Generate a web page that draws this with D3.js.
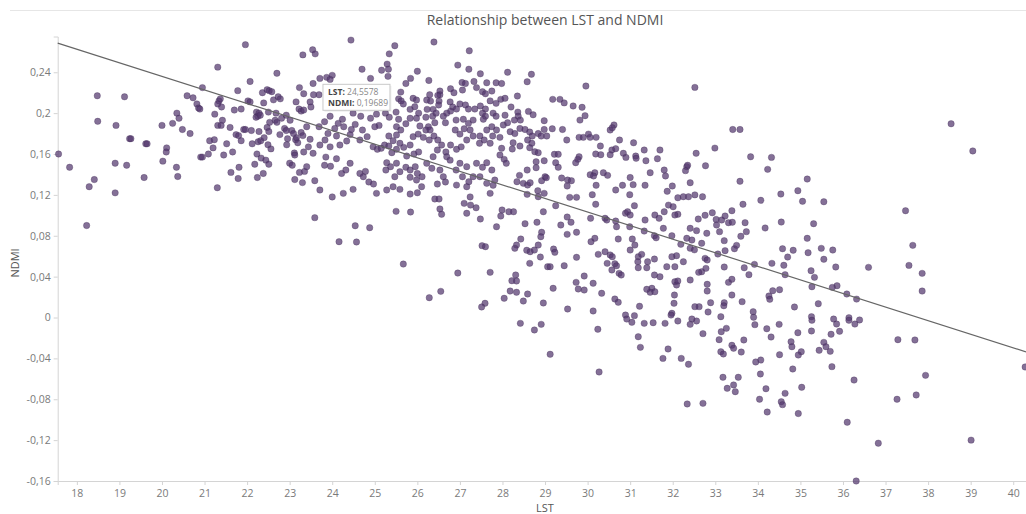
<!DOCTYPE html>
<html>
<head>
<meta charset="utf-8">
<script src="https://cdn.jsdelivr.net/npm/d3@7"></script>
<style>
  body { margin: 0; background: #fff; }
  svg { display: block; font-family: "Open Sans", "DejaVu Sans", sans-serif; }
</style>
</head>
<body>
<svg id="chart"></svg>
<script>
//chart text
const title = "Relationship between LST and NDMI";
const xLabel = "LST";
const yLabel = "NDMI";

//axis ranges and ticks
const lstRange = [17.55, 40.3];
const ndmiRange = [-0.16, 0.275];
const xTicks = d3.range(18, 41, 1);
const yTicks = [-0.16, -0.12, -0.08, -0.04, 0, 0.04, 0.08, 0.12, 0.16, 0.2, 0.24];

//trend line NDMI = a + b * LST
const trendIntercept = 0.5016;
const trendSlope = -0.01328;

//hovered point shown in the tooltip
const tipPoint = [24.5578, 0.19689];

//sample points [LST, NDMI]
const samples = [
  //left part
  [17.57,0.160],[17.83,0.147],[18.29,0.128],[18.41,0.135],[18.23,0.090],[18.48,0.217],[18.49,0.192],[19.12,0.216],[18.92,0.188],[18.90,0.151],
  [18.90,0.122],[19.17,0.149],[19.24,0.175],[19.27,0.175],[19.62,0.170],[19.65,0.170],[19.58,0.137],[20.00,0.188],[20.11,0.166],[20.10,0.162],
  [20.02,0.153],[20.25,0.190],[20.35,0.200],[20.40,0.195],[20.48,0.184],[20.34,0.147],[20.37,0.138],[20.66,0.180],[20.59,0.217],[20.73,0.215],
  [20.82,0.209],[20.86,0.205],[20.89,0.204],[20.95,0.225],[21.31,0.245],[20.91,0.157],[20.95,0.157],[21.09,0.160],[21.12,0.173],[21.23,0.174],
  [21.20,0.166],[21.30,0.127],[21.24,0.199],[21.34,0.212],[21.37,0.214],[21.31,0.209],[21.40,0.206],[21.42,0.193],[21.31,0.188],[21.39,0.188],
  [21.45,0.159],[21.52,0.170],[21.60,0.186],[21.66,0.162],[21.70,0.203],[21.86,0.204],[21.78,0.222],[21.96,0.267],[22.07,0.231],[22.02,0.212],
  [22.07,0.211],[21.74,0.179],[21.80,0.178],[21.86,0.173],[21.92,0.184],[21.96,0.184],[22.10,0.183],[22.12,0.170],[21.81,0.147],[21.62,0.142],
  [21.79,0.136],[22.18,0.150],[22.23,0.160],[22.24,0.137],[22.38,0.141],[22.33,0.156],[22.44,0.154],[22.51,0.150],[22.22,0.201],[22.25,0.197],
  [22.21,0.196],[22.28,0.200],[22.31,0.198],[22.39,0.210],[22.36,0.220],[22.47,0.223],[22.52,0.222],[22.58,0.221],[22.62,0.213],[22.70,0.239],
  [22.73,0.216],[22.78,0.214],[22.28,0.182],[22.26,0.172],[22.32,0.173],[22.40,0.176],[22.47,0.186],[22.51,0.182],[22.49,0.169],[22.56,0.165],
  [22.53,0.191],[22.50,0.201],[22.66,0.193],[22.70,0.191],[22.68,0.200],[22.88,0.185],[22.92,0.183],[22.77,0.179],[22.95,0.175],[22.93,0.169],
  [22.81,0.195],[22.92,0.198],[23.01,0.193],[23.15,0.211],[23.23,0.225],[23.31,0.257],[23.33,0.219],[23.22,0.204],[23.27,0.202],[23.33,0.203],
  [23.00,0.151],[23.06,0.149],[23.12,0.135],[23.30,0.132],[23.23,0.142],[23.35,0.143],[23.11,0.161],[23.12,0.159],[23.33,0.162],[23.14,0.174],
  [23.19,0.171],[23.16,0.176],[23.27,0.181],[23.31,0.178],[23.05,0.183],[23.09,0.180],
  //dense core
  [24.44,0.2715],[25.47,0.266],[26.39,0.2696],[23.54,0.262],[23.60,0.258],[25.34,0.258],[27.22,0.261],[26.95,0.247],[24.70,0.243],[25.29,0.248],
  [25.32,0.243],[25.16,0.242],[26.00,0.241],[27.21,0.243],[27.48,0.2385],[25.31,0.236],[25.84,0.234],[25.73,0.229],[26.27,0.232],[24.90,0.234],
  [23.71,0.234],[23.87,0.235],[24.00,0.237],[23.95,0.233],[23.55,0.229],[23.56,0.218],[23.69,0.218],[23.48,0.211],[23.50,0.206],
  [27.05,0.230],[27.13,0.229],[27.06,0.2226],[27.33,0.231],[27.39,0.225],[27.63,0.2297],[27.85,0.2297],[27.75,0.2216],[27.53,0.221],[27.60,0.219],
  [26.78,0.2239],[26.86,0.220],[26.53,0.2216],[26.53,0.218],[26.29,0.218],[26.22,0.2128],[26.31,0.2118],[26.48,0.2174],[26.51,0.2118],[26.50,0.208],
  [25.90,0.2145],[25.98,0.2128],[25.94,0.2063],[25.61,0.2206],[25.56,0.214],[25.62,0.212],[25.67,0.209],[25.83,0.2037],[26.77,0.211],[26.83,0.206],
  [26.78,0.202],[26.92,0.204],[27.00,0.209],[27.13,0.208],[27.20,0.204],[27.35,0.204],[27.48,0.207],[27.60,0.204],[27.71,0.212],[27.85,0.2096],
  [27.53,0.200],[27.60,0.197],[27.55,0.194],[27.78,0.200],[27.85,0.197],[26.69,0.200],[26.61,0.197],[26.66,0.1906],[26.37,0.2037],[26.36,0.197],
  [26.44,0.200],[26.41,0.1906],[26.20,0.196],[26.23,0.2037],[26.26,0.1867],[26.03,0.200],[25.98,0.195],[26.06,0.1874],[25.83,0.195],[25.73,0.1896],
  [25.50,0.201],[25.56,0.194],[25.51,0.1867],[25.61,0.1835],[25.25,0.200],[25.34,0.196],[25.04,0.199],[24.90,0.195],[25.10,0.188],[24.67,0.197],
  [24.49,0.200],[24.54,0.189],[24.24,0.194],[24.14,0.190],[23.95,0.197],[23.82,0.1916],[23.69,0.1867],[23.40,0.1867],[23.48,0.1744],
  [24.06,0.185],[23.90,0.180],[23.83,0.1737],[24.10,0.1776],[24.27,0.1867],[24.42,0.179],[24.45,0.184],[24.34,0.1727],[24.71,0.1835],[24.82,0.177],
  [24.65,0.1737],[25.00,0.1867],[24.96,0.167],[25.06,0.1646],[25.15,0.1656],[25.23,0.1688],[25.33,0.1776],[25.43,0.173],[25.51,0.1786],[25.33,0.1678],
  [25.40,0.1613],[25.51,0.1646],[25.59,0.1705],[25.68,0.1665],[25.83,0.1688],[25.75,0.158],[25.92,0.160],[26.03,0.162],[25.90,0.177],[26.02,0.1795],
  [26.14,0.1763],[26.20,0.1835],[26.30,0.1835],[26.28,0.1737],[26.39,0.1776],[26.48,0.1737],[26.57,0.1688],[26.47,0.1639],[26.67,0.162],[26.78,0.1688],
  [26.92,0.1646],[27.03,0.167],[27.16,0.1737],[26.89,0.1835],[27.00,0.1795],[27.10,0.1847],[27.24,0.1835],[26.91,0.1932],[27.08,0.194],[27.20,0.190],
  [27.31,0.1932],[27.31,0.1776],[27.47,0.1776],[27.57,0.1737],[27.46,0.1705],[27.63,0.1835],[27.77,0.1776],[27.86,0.1835],[27.75,0.1867],[27.71,0.1705],
  [23.44,0.167],[23.55,0.1607],[23.71,0.1688],[23.95,0.167],[24.18,0.1688],[23.85,0.157],[23.82,0.149],[23.96,0.148],[24.10,0.1554],
  [24.42,0.1509],[24.32,0.1443],[24.22,0.141],[24.65,0.141],[24.73,0.1378],[24.78,0.143],[24.86,0.1326],[24.97,0.1306],[25.28,0.1515],[25.37,0.1476],
  [25.26,0.1443],[25.51,0.151],[25.59,0.1427],[25.47,0.1378],[25.73,0.147],[25.83,0.1443],[25.95,0.1476],[26.00,0.141],[25.83,0.1372],[25.98,0.1345],
  [26.11,0.1378],[26.22,0.1509],[26.34,0.146],[26.53,0.1443],[26.37,0.1573],[26.69,0.1573],[26.77,0.154],[26.61,0.1378],[26.66,0.1326],[26.47,0.1306],
  [26.91,0.1443],[27.00,0.1509],[27.16,0.1476],[27.06,0.1378],[27.21,0.1329],[27.31,0.1378],[27.39,0.1509],[27.53,0.147],[27.63,0.1515],[27.75,0.1443],
  [27.47,0.1378],[27.63,0.1313],[27.82,0.1345],[23.40,0.1476],[23.59,0.1339],[23.71,0.1248],[24.00,0.118],[24.26,0.1215],[24.49,0.1254],
  [25.59,0.1254],[25.83,0.1208],[26.00,0.1221],[26.10,0.128],[26.92,0.1296],[27.16,0.128],[27.24,0.118],[25.04,0.1215],[25.28,0.1248],[25.43,0.128],
  [27.78,0.1294],[27.71,0.1215],
  //upper middle
  [28.12,0.240],[28.68,0.238],[28.58,0.2307],[27.98,0.229],[28.35,0.2167],[27.96,0.2135],[28.06,0.2145],[28.20,0.206],[28.36,0.201],[28.37,0.197],
  [28.28,0.1932],[28.42,0.1932],[28.61,0.2017],[28.72,0.1984],[28.06,0.198],[28.02,0.1884],[28.12,0.1906],[28.18,0.1818],[28.29,0.180],
  [28.41,0.185],[28.53,0.184],[28.64,0.1815],[28.70,0.1776],[28.59,0.1737],[28.84,0.180],[28.91,0.1776],[29.04,0.1776],[28.98,0.1926],[29.17,0.1847],
  [28.98,0.184],[29.41,0.184],[29.18,0.2135],[29.35,0.2135],[29.45,0.210],[29.66,0.207],[29.87,0.2057],[29.94,0.1975],[29.82,0.1932],[29.96,0.2265],
  [32.52,0.2252],[29.51,0.1737],[29.80,0.1763],[29.90,0.1763],[30.02,0.1795],[30.06,0.1763],[30.20,0.1763],[30.53,0.1835],[30.62,0.1884],[30.58,0.1857],
  [30.30,0.1678],[30.75,0.1737],[31.08,0.171],[30.57,0.1639],[30.66,0.1652],[30.53,0.1593],[30.84,0.1607],[30.90,0.1567],[31.13,0.158],[31.14,0.1558],
  [31.37,0.1534],[31.33,0.1639],[31.70,0.1639],[31.64,0.1554],[32.55,0.1607],[31.80,0.1443],[31.83,0.1385],[32.33,0.1476],[32.35,0.149],[32.30,0.1437],
  [31.47,0.1417],[31.00,0.137],[30.82,0.1294],[31.07,0.130],[31.35,0.1294],[30.66,0.1248],[30.99,0.1202],[31.99,0.1287],[31.87,0.1235],[32.41,0.1319],
  [32.52,0.120],[32.37,0.1182],[32.12,0.1172],[32.25,0.1182],[29.80,0.1573],[29.77,0.1548],[29.72,0.1515],[30.19,0.160],[30.31,0.1593],[30.17,0.1417],
  [30.06,0.1397],[30.14,0.1385],[30.37,0.1417],[30.47,0.1391],[30.20,0.1294],[30.11,0.1202],[29.39,0.1365],[29.53,0.1345],[29.62,0.1339],[29.52,0.1287],
  [29.58,0.1176],[29.74,0.1176],[29.25,0.1515],[29.31,0.147],[29.22,0.1597],[29.31,0.1597],[28.98,0.1534],[28.79,0.1524],[28.79,0.1466],[29.00,0.1378],
  [28.92,0.1339],[29.03,0.1368],[28.58,0.1443],[28.40,0.1391],[28.34,0.1329],[28.49,0.1313],[28.59,0.1296],[28.65,0.1319],[28.83,0.1241],[28.98,0.1215],
  [28.58,0.1205],[28.84,0.1182],[28.04,0.1548],[28.09,0.1509],[27.94,0.159],[27.98,0.1656],[28.25,0.171],[28.23,0.1649],[28.41,0.1678],[28.69,0.1705],
  [28.64,0.1662],[28.76,0.1622],[28.84,0.1613],[27.94,0.1763],
  //upper right
  [38.54,0.1896],[39.05,0.163],[33.41,0.184],[33.58,0.184],[32.99,0.1658],[33.83,0.1573],[34.32,0.1567],[32.77,0.1485],[34.23,0.145],[33.58,0.1333],
  [35.16,0.1355],[32.70,0.1182],[34.54,0.1208],[34.94,0.1241],[35.05,0.1137],[35.55,0.1133],[34.07,0.1147],[33.65,0.1108],[37.47,0.1045],[32.60,0.0964],
  [32.76,0.100],[32.93,0.1025],[33.02,0.096],[33.15,0.0954],[33.23,0.0993],[33.39,0.1045],[33.31,0.0928],[33.40,0.0932],[33.03,0.0905],[33.70,0.0928],
  [33.73,0.084],[33.60,0.0795],[32.56,0.085],[32.80,0.0824],[33.10,0.084],[33.21,0.0752],[32.68,0.0726],[34.17,0.0876],[34.55,0.0934],[35.31,0.0918],
  [35.16,0.0775],[34.58,0.0673],[34.83,0.0658],[35.18,0.0634],[35.49,0.0677],[35.76,0.066],[34.70,0.0592],[35.55,0.057],[37.64,0.0706],[33.06,0.0621],
  [32.76,0.0579],[33.23,0.0654],[33.45,0.0673],[33.50,0.0706],
  //lower right
  [32.71,-0.084],[34.22,-0.0925],[34.95,-0.094],[36.10,-0.1025],[36.83,-0.123],[39.01,-0.120],[36.31,-0.160],[37.27,-0.080],[37.72,-0.0758],[37.94,-0.0566],
  [36.26,-0.0612],[37.29,-0.0217],[37.69,-0.022],[40.28,-0.0484],[36.60,0.0491],[37.55,0.051],[37.86,0.0432],[37.86,0.0259],[36.09,0.023],[36.32,0.018],
  [36.14,-0.0002],[36.14,-0.0027],[36.28,-0.0064],[36.39,-0.0024],[35.92,-0.0135],[35.72,-0.0164],[35.78,-0.0015],[35.85,-0.0064],[35.83,0.0494],
  [35.86,0.0311],[35.75,0.0295],[35.25,0.0458],[35.27,0.0301],[35.33,0.0393],[35.42,0.0135],[35.26,0.0008],[35.27,-0.0027],[35.26,-0.0132],[35.55,-0.0243],
  [35.60,-0.0286],[35.70,-0.0331],[35.44,-0.0321],[35.74,-0.0481],[35.03,-0.0683],[34.86,0.0103],[34.94,-0.0149],[35.02,-0.0335],[34.95,-0.0367],[34.78,-0.0237],
  [34.80,-0.0286],[34.82,-0.0504],[34.64,-0.0742],[34.55,-0.0824],[34.58,-0.0853],[34.51,-0.0364],[34.50,-0.0067],[34.31,-0.0191],[34.21,-0.011],[34.61,0.0511],
  [34.64,0.0419],[34.33,0.053],[34.51,0.0272],[34.35,0.0262],[34.26,0.021],[34.28,0.0178],[33.92,0.052],[33.68,0.0487],[33.79,0.0419],
  [33.39,0.022],[33.63,0.0155],[33.89,0.0057],[33.90,0.0002],[33.93,-0.007],[33.67,-0.022],[33.61,-0.0338],[33.39,-0.0272],[33.43,-0.0301],[33.95,-0.0435],
  [34.07,-0.0416],[34.06,-0.0553],[34.19,-0.0697],[34.04,-0.080],[33.18,-0.0585],[33.54,-0.0585],[33.43,-0.066],[33.28,-0.0693],[33.47,-0.0726],[33.13,-0.0335],
  [33.19,-0.0357],[33.09,-0.0217],[33.14,-0.0139],[33.26,-0.0106],[33.13,0.0008],[33.21,0.0145],[33.20,0.0115],[32.89,0.0145],[32.83,0.0054],[32.71,-0.0158],
  [32.56,-0.0034],[32.62,0.0106],[32.52,0.0106],[32.81,0.0325],[32.81,0.0259],[33.31,0.0344],[33.39,0.0374],[33.21,0.0494],[32.68,0.0448],[32.78,0.0481],
  [32.81,0.0563],
  //lower middle
  [27.99,0.1052],[27.96,0.0993],[28.15,0.1035],[28.26,0.1035],[27.86,0.0888],[28.53,0.0918],[28.81,0.0932],[28.96,0.1035],[29.25,0.1094],[29.52,0.0983],
  [29.61,0.0932],[29.37,0.0905],[28.92,0.0834],[28.90,0.0791],[28.43,0.0768],[28.33,0.0709],[28.29,0.0677],[28.57,0.0658],[28.65,0.0644],[28.75,0.066],
  [28.84,0.0709],[28.64,0.053],[28.89,0.0592],[29.06,0.0497],[29.12,0.0497],[29.20,0.067],[29.23,0.0638],[29.45,0.0507],[29.74,0.0589],[29.52,0.0814],
  [29.74,0.0834],[30.07,0.0971],[30.19,0.1108],[30.41,0.0971],[30.45,0.0954],[30.66,0.0944],[30.68,0.0888],[30.08,0.0742],[30.17,0.0775],[30.25,0.0618],
  [30.41,0.0644],[30.53,0.0612],[30.58,0.0595],[30.46,0.053],[30.64,0.0526],[30.57,0.0465],[30.68,0.0507],[30.74,0.0432],[30.79,0.0416],[30.72,0.0768],
  [30.89,0.102],[30.94,0.1035],[31.00,0.1003],[31.10,0.1094],[30.99,0.0888],[31.05,0.0768],[31.11,0.0709],[31.00,0.066],[31.19,0.0595],[31.27,0.0618],
  [31.18,0.0546],[31.19,0.0487],[31.41,0.0546],[31.39,0.0487],[31.57,0.0572],[31.35,0.0954],[31.33,0.0846],[31.58,0.1003],[31.68,0.0971],[31.78,0.0873],
  [31.57,0.080],[31.61,0.078],[31.80,0.1035],[31.90,0.110],[32.01,0.1084],[32.12,0.101],[32.05,0.1003],[31.98,0.080],[32.19,0.0716],[32.33,0.0775],
  [32.41,0.0873],[32.45,0.0758],[32.25,0.0546],[32.09,0.0605],[31.98,0.0595],[31.86,0.0497],[32.05,0.0497],[32.41,0.0678],[32.51,0.0662],[31.57,0.0416],
  [31.70,0.0399],[31.51,0.0286],[31.47,0.0247],[31.58,0.0252],[31.39,0.0276],[32.05,0.035],[32.09,0.0318],[32.04,0.022],[32.03,0.0139],[32.12,0.0357],
  [32.41,0.0367],[32.61,0.0442],[31.98,0.0041],[31.96,0.0024],[32.12,-0.0034],[31.82,-0.0057],[32.45,-0.0015],[32.41,-0.0067],[31.54,-0.0051],[31.33,-0.0057],
  [31.22,0.011],[31.10,0.0018],[31.04,-0.0047],[30.89,0.0024],[30.92,-0.0015],[31.19,-0.0188],[30.64,0.0181],[30.72,0.0149],[30.33,0.0237],[30.13,0.0335],
  [29.92,0.0406],[29.73,0.0344],[29.78,0.0279],[29.92,0.0269],[29.53,0.0083],[30.13,0.0064],[30.24,-0.0115],[29.19,0.0286],[28.96,0.0142],[28.49,0.0161],
  [28.59,0.023],[28.33,0.0247],[28.18,0.0259],[28.04,0.0188],[28.31,0.0416],[28.22,0.036],[28.33,0.0357],[28.42,-0.0057],[28.75,-0.0122],[28.91,-0.0067],
  //lower left of the core
  [23.59,0.0977],[24.54,0.0898],[24.88,0.0879],[24.16,0.0742],[24.57,0.0739],[25.67,0.0523],[25.50,0.1039],[25.84,0.1032],[26.41,0.116],[26.51,0.116],
  [26.53,0.1062],[26.57,0.101],[27.10,0.1117],[27.25,0.110],[27.38,0.1074],[27.16,0.102],[27.48,0.0964],[27.52,0.0703],[27.60,0.0693],
  [26.95,0.0435],[27.71,0.0442],[26.55,0.0256],[26.28,0.0194],[27.59,0.0139],[27.51,0.0103],
  //bottom
  [29.12,-0.036],[30.27,-0.0533],[31.24,-0.0292],[31.77,-0.040],[31.89,-0.0308],[32.20,-0.040],[32.37,-0.0458],[32.34,-0.0846]
];

const w = 1026;
const h = 514;
const plotLeft = 57.7;
const plotRight = 1026;
const plotTop = 36.5;
const plotBottom = 481;

const svg = d3.select('#chart')
    .attr('width', w)
    .attr('height', h);

const xScale = d3.scaleLinear().domain(lstRange).range([plotLeft, plotRight]);
const yScale = d3.scaleLinear().domain(ndmiRange).range([plotBottom, plotTop]);

//decimal comma like the original
const comma = (v, digits) => String(+v.toFixed(digits)).replace('.', ',');

//thin line at the very top
svg.append('line')
    .attr('x1', 10).attr('x2', w)
    .attr('y1', 10.5).attr('y2', 10.5)
    .attr('stroke', '#e6e6e6');

svg.append('text')
    .attr('x', 545)
    .attr('y', 25)
    .attr('text-anchor', 'middle')
    .attr('font-size', 14)
    .attr('fill', '#555')
    .text(title);

//axes
const xAxis = d3.axisBottom(xScale)
    .tickValues(xTicks)
    .tickSize(4)
    .tickPadding(5)
    .tickFormat(d => d);

const yAxis = d3.axisLeft(yScale)
    .tickValues(yTicks)
    .tickSize(4)
    .tickPadding(3)
    .tickFormat(d => comma(d, 2));

const gx = svg.append('g')
    .attr('transform', 'translate(0,' + plotBottom + ')')
    .call(xAxis);

const gy = svg.append('g')
    .attr('transform', 'translate(' + plotLeft + ',0)')
    .call(yAxis);

[gx, gy].forEach(g => {
    g.select('.domain').attr('stroke', '#d4d4d4');
    g.selectAll('.tick line').attr('stroke', '#d4d4d4');
    g.selectAll('.tick text')
        .attr('fill', '#7a7a7a')
        .attr('font-size', 10.5)
        .attr('font-family', '"Open Sans", "DejaVu Sans", sans-serif');
});

svg.append('text')
    .attr('x', 545)
    .attr('y', 512)
    .attr('text-anchor', 'middle')
    .attr('font-size', 11)
    .attr('fill', '#555')
    .text(xLabel);

svg.append('text')
    .attr('transform', 'translate(19,' + 263 + ') rotate(-90)')
    .attr('text-anchor', 'middle')
    .attr('font-size', 11)
    .attr('fill', '#555')
    .text(yLabel);

//points
svg.append('g')
    .selectAll('circle')
    .data(samples)
    .enter()
    .append('circle')
    .attr('cx', d => xScale(d[0]))
    .attr('cy', d => yScale(d[1]))
    .attr('r', 3.2)
    .attr('fill', '#54396f')
    .attr('fill-opacity', 0.72)
    .attr('stroke', '#3b2850')
    .attr('stroke-opacity', 0.5)
    .attr('stroke-width', 0.6);

//trend line
svg.append('line')
    .attr('x1', xScale(lstRange[0]))
    .attr('y1', yScale(trendIntercept + trendSlope * lstRange[0]))
    .attr('x2', xScale(lstRange[1]))
    .attr('y2', yScale(trendIntercept + trendSlope * lstRange[1]))
    .attr('stroke', '#666')
    .attr('stroke-width', 1.2);

//tooltip box for the hovered point
const tx = xScale(tipPoint[0]) - 33;
const ty = yScale(tipPoint[1]) - 32;
const tip = svg.append('g').attr('transform', 'translate(' + tx + ',' + ty + ')');

tip.append('rect')
    .attr('x', 1.5).attr('y', 1.5)
    .attr('width', 67).attr('height', 26)
    .attr('fill', '#000').attr('fill-opacity', 0.06);
tip.append('rect')
    .attr('width', 67).attr('height', 26)
    .attr('fill', '#fff')
    .attr('stroke', '#c9c9c9');

const tipLines = [['LST: ', comma(tipPoint[0], 4)], ['NDMI: ', comma(tipPoint[1], 5)]];
tipLines.forEach((l, i) => {
    const t = tip.append('text')
        .attr('x', 5)
        .attr('y', 11 + i * 10.5)
        .attr('font-size', 8.5);
    t.append('tspan').attr('font-weight', 'bold').attr('fill', '#444').text(l[0]);
    t.append('tspan').attr('fill', '#888').text(l[1]);
});
</script>
</body>
</html>
